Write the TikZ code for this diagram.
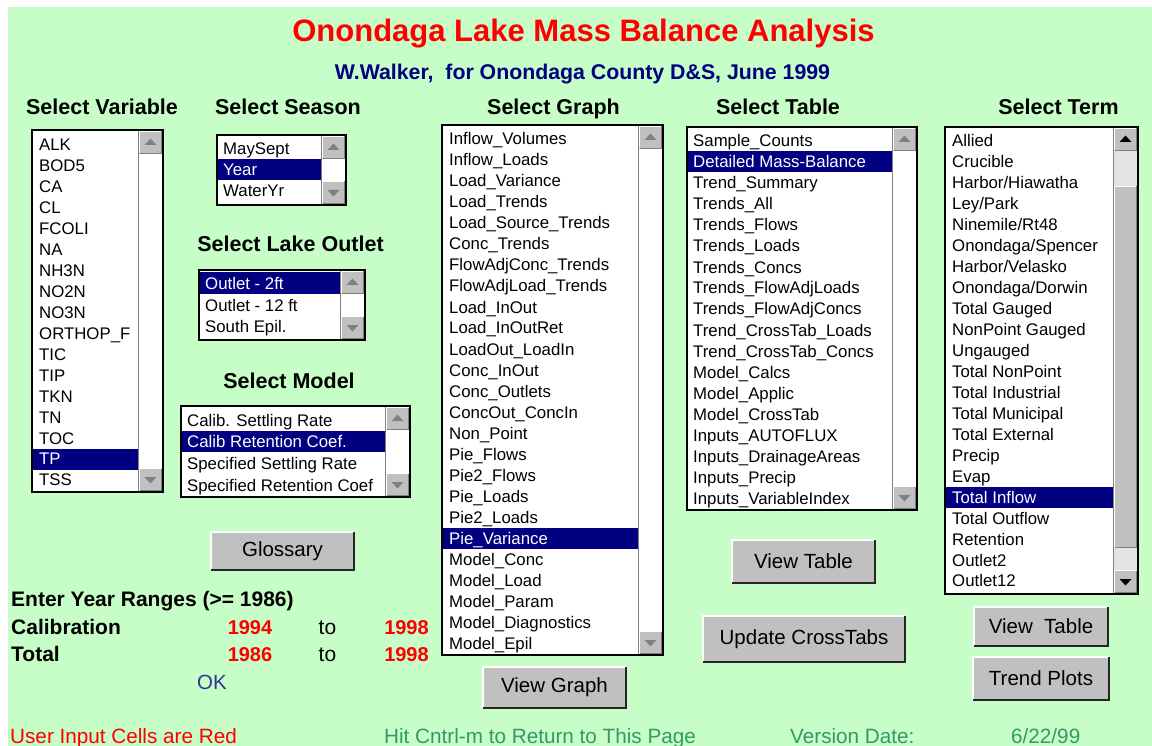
\documentclass[tikz,border=0pt]{standalone}
\usepackage{fontspec}
\setmainfont{Liberation Sans}
\usetikzlibrary{positioning}

\definecolor{bggreen}{RGB}{199,253,199}
\definecolor{selnavy}{RGB}{0,0,128}
\definecolor{titlered}{RGB}{255,0,0}
\definecolor{seagreen}{RGB}{51,153,102}
\definecolor{okblue}{RGB}{51,51,153}
\definecolor{btngray}{RGB}{192,192,192}
\definecolor{btnshade}{RGB}{128,128,128}

\tikzset{
  heading/.style={anchor=base, inner sep=0pt, font=\fontsize{21.5}{26}\selectfont\bfseries},
  entry/.style={anchor=base west, inner sep=0pt, font=\fontsize{16.8}{20}\selectfont},
  yearlbl/.style={anchor=base west, inner sep=0pt, font=\fontsize{21}{25}\selectfont\bfseries},
  yearval/.style={anchor=base, inner sep=0pt, text=titlered, font=\fontsize{20}{24}\selectfont\bfseries},
  note/.style={anchor=base west, inner sep=0pt, font=\fontsize{20.7}{25}\selectfont},
  button/.style={fill=btngray, inner sep=0pt, font=\fontsize{20.5}{24}\selectfont},
  listframe/.style={draw=black, line width=1.5pt},
}

% raised grey face: x1, y1, x2, y2
\newcommand{\raisedbox}[4]{%
  \fill[btngray] (#1,#2) rectangle (#3,#4);
  \draw[white] (#1+0.5,#4-0.5) -- (#1+0.5,#2+0.5) -- (#3-0.5,#2+0.5);
  \draw[btnshade] (#1+0.5,#4-0.5) -- (#3-0.5,#4-0.5) -- (#3-0.5,#2+0.5);
}
% scroll column: right x, top y, bottom y, arrow colour
\newcommand{\scrollcol}[4]{%
  \draw[btnshade] (#1-24.5,#2) -- (#1-24.5,#3);
  \raisedbox{#1-24}{#2+1}{#1-1}{#2+24}
  \raisedbox{#1-24}{#3-24}{#1-1}{#3-1}
  \fill[#4] (#1-12.5,#2+8.5) -- (#1-18.5,#2+15) -- (#1-6.5,#2+15) -- cycle;
  \fill[#4] (#1-12.5,#3-8.5) -- (#1-18.5,#3-15) -- (#1-6.5,#3-15) -- cycle;
}
% button edges
\newcommand{\bevel}[1]{%
  \draw[white, line width=1.5pt] (#1.south west) |- (#1.north east);
  \draw[black!85, line width=2pt] (#1.south west) -| (#1.north east);
}

\begin{document}
\begin{tikzpicture}[x=1pt, y=-1pt]
  \useasboundingbox (0,0) rectangle (1152,746);
  \fill[white] (0,0) rectangle (1152,746);
  \fill[bggreen] (8,7) rectangle (1152,746);

  % titles
  \node[anchor=base, inner sep=0pt, text=titlered, font=\fontsize{31}{36}\selectfont\bfseries] (title) at (583.5,42) {Onondaga Lake Mass Balance Analysis};
  \node[anchor=base, inner sep=0pt, text=selnavy, font=\fontsize{21.3}{26}\selectfont\bfseries] (byline) at (582.5,80) {W.Walker,\ \ for Onondaga County D\&S, June 1999};

  % headings
  \node[heading] (hvar) at (102,115) {Select Variable};
  \node[heading] (hseason) at (288,115) {Select Season};
  \node[heading] (hgraph) at (553.5,115) {Select Graph};
  \node[heading] (htable) at (778,115) {Select Table};
  \node[heading] (hterm) at (1058.5,115) {Select Term};
  \node[heading] (houtlet) at (290.5,251.5) {Select Lake Outlet};
  \node[heading] (hmodel) at (289,388) {Select Model};

  % variable list
  \fill[white] (32,130) rectangle (163,492);
  \fill[selnavy] (33,448.5) rectangle (138,469.5);
  \scrollcol{163}{130}{492}{btnshade}
  \foreach \t [count=\i] in {ALK,BOD5,CA,CL,FCOLI,NA,NH3N,NO2N,NO3N,ORTHOP\_F,TIC,TIP,TKN,TN,TOC,TP,TSS} {
    \ifnum\i=16 \def\tc{white}\else\def\tc{black}\fi
    \node[entry, text=\tc] (var\i) at (39,{151+20.93*(\i-1)}) {\t};
  }
  \draw[listframe] (32,130) rectangle (163,492);

  % season list
  \fill[white] (217,135) rectangle (346,205);
  \fill[selnavy] (218,159.5) rectangle (321,180.5);
  \scrollcol{346}{135}{205}{btnshade}
  \foreach \t [count=\i] in {MaySept,Year,WaterYr} {
    \ifnum\i=2 \def\tc{white}\else\def\tc{black}\fi
    \node[entry, text=\tc] (season\i) at (223,{155+21*(\i-1)}) {\t};
  }
  \draw[listframe] (217,135) rectangle (346,205);

  % outlet list
  \fill[white] (199,270) rectangle (365,340);
  \fill[selnavy] (200,272) rectangle (340,294.5);
  \scrollcol{365}{270}{340}{btnshade}
  \foreach \t [count=\i] in {Outlet - 2ft,Outlet - 12 ft,South Epil.} {
    \ifnum\i=1 \def\tc{white}\else\def\tc{black}\fi
    \node[entry, text=\tc] (outlet\i) at (205,{290+21.5*(\i-1)}) {\t};
  }
  \draw[listframe] (199,270) rectangle (365,340);

  % model list
  \fill[white] (181,406) rectangle (410,497);
  \fill[selnavy] (182,431) rectangle (385,452);
  \scrollcol{410}{406}{497}{btnshade}
  \foreach \t [count=\i] in {Calib. Settling Rate,Calib Retention Coef.,Specified Settling Rate,Specified Retention Coef} {
    \ifnum\i=2 \def\tc{white}\else\def\tc{black}\fi
    \node[entry, text=\tc] (model\i) at (187,{426+21.7*(\i-1)}) {\t};
  }
  \draw[listframe] (181,406) rectangle (410,497);

  % graph list
  \fill[white] (442,125) rectangle (663,655);
  \fill[selnavy] (443,527.5) rectangle (638,548.5);
  \scrollcol{663}{125}{655}{btnshade}
  \foreach \t [count=\i] in {Inflow\_Volumes,Inflow\_Loads,Load\_Variance,Load\_Trends,Load\_Source\_Trends,Conc\_Trends,FlowAdjConc\_Trends,FlowAdjLoad\_Trends,Load\_InOut,Load\_InOutRet,LoadOut\_LoadIn,Conc\_InOut,Conc\_Outlets,ConcOut\_ConcIn,Non\_Point,Pie\_Flows,Pie2\_Flows,Pie\_Loads,Pie2\_Loads,Pie\_Variance,Model\_Conc,Model\_Load,Model\_Param,Model\_Diagnostics,Model\_Epil} {
    \ifnum\i=20 \def\tc{white}\else\def\tc{black}\fi
    \node[entry, text=\tc] (graph\i) at (449,{145+21*(\i-1)}) {\t};
  }
  \draw[listframe] (442,125) rectangle (663,655);

  % table list
  \fill[white] (687,127) rectangle (917,510);
  \fill[selnavy] (688,151.5) rectangle (892,172.5);
  \scrollcol{917}{127}{510}{btnshade}
  \foreach \t [count=\i] in {Sample\_Counts,Detailed Mass-Balance,Trend\_Summary,Trends\_All,Trends\_Flows,Trends\_Loads,Trends\_Concs,Trends\_FlowAdjLoads,Trends\_FlowAdjConcs,Trend\_CrossTab\_Loads,Trend\_CrossTab\_Concs,Model\_Calcs,Model\_Applic,Model\_CrossTab,Inputs\_AUTOFLUX,Inputs\_DrainageAreas,Inputs\_Precip,Inputs\_VariableIndex} {
    \ifnum\i=2 \def\tc{white}\else\def\tc{black}\fi
    \node[entry, text=\tc] (table\i) at (693,{147+21*(\i-1)}) {\t};
  }
  \draw[listframe] (687,127) rectangle (917,510);

  % term list
  \fill[white] (945,127) rectangle (1138,594);
  \fill[selnavy] (946,486.7) rectangle (1113,507.7);
  \fill[btngray!45!white] (1114,151) rectangle (1137,571);
  \raisedbox{1114}{186}{1137}{548}
  \scrollcol{1138}{127}{594}{black}
  \foreach \t [count=\i] in {Allied,Crucible,Harbor/Hiawatha,Ley/Park,Ninemile/Rt48,Onondaga/Spencer,Harbor/Velasko,Onondaga/Dorwin,Total Gauged,NonPoint Gauged,Ungauged,Total NonPoint,Total Industrial,Total Municipal,Total External,Precip,Evap,Total Inflow,Total Outflow,Retention,Outlet2,Outlet12} {
    \ifnum\i=18 \def\tc{white}\else\def\tc{black}\fi
    \node[entry, text=\tc] (term\i) at (952,{147+20.95*(\i-1)}) {\t};
  }
  \draw[listframe] (945,127) rectangle (1138,594);

  % buttons
  \node[button, minimum width=143pt, minimum height=38pt] (glossary) at (282.5,551) {Glossary};
  \node[button, minimum width=143pt, minimum height=41pt] (viewgraph) at (554.5,687.5) {View Graph};
  \node[button, minimum width=143pt, minimum height=43pt] (viewtable) at (803.5,561.5) {View Table};
  \node[button, minimum width=202pt, minimum height=46pt] (crosstabs) at (804,639) {Update CrossTabs};
  \node[button, minimum width=134pt, minimum height=39pt] (termtable) at (1041,626.5) {View\ \ Table};
  \node[button, minimum width=136pt, minimum height=43pt] (trendplots) at (1041,678.5) {Trend Plots};
  \bevel{glossary}
  \bevel{viewgraph}
  \bevel{viewtable}
  \bevel{crosstabs}
  \bevel{termtable}
  \bevel{trendplots}

  % year ranges
  \node[yearlbl] (ranges) at (11,606.5) {Enter Year Ranges (>= 1986)};
  \node[yearlbl] (calib) at (11,634) {Calibration};
  \node[yearval] (calfrom) at (250,634) {1994};
  \node[anchor=base, inner sep=0pt, font=\fontsize{21}{25}\selectfont] (calto) at (327.5,634) {to};
  \node[yearval] (caluntil) at (406.5,634) {1998};
  \node[yearlbl] (total) at (11,661.5) {Total};
  \node[yearval] (totfrom) at (250,661.5) {1986};
  \node[anchor=base, inner sep=0pt, font=\fontsize{21}{25}\selectfont] (totto) at (327.5,661.5) {to};
  \node[yearval] (totuntil) at (406.5,661.5) {1998};
  \node[anchor=base, inner sep=0pt, text=okblue, font=\fontsize{20.5}{24}\selectfont] (ok) at (212,689) {OK};

  % footer
  \node[note, text=titlered] (redcells) at (10,743) {User Input Cells are Red};
  \node[note, text=seagreen] (hotkey) at (384,743) {Hit Cntrl-m to Return to This Page};
  \node[note, text=seagreen] (version) at (790,743) {Version Date:};
  \node[note, text=seagreen] (vdate) at (1011,743) {6/22/99};
\end{tikzpicture}
\end{document}
